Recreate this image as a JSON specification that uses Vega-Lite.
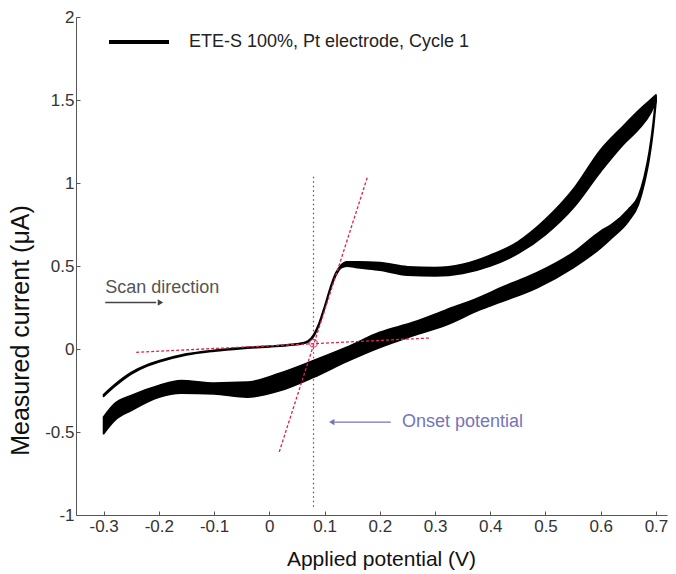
{
  "$schema": "https://vega.github.io/schema/vega-lite/v6.json",
  "width": 591,
  "height": 498,
  "autosize": {"type": "none"},
  "padding": {"left": 76, "top": 17, "right": 9, "bottom": 59},
  "background": "white",
  "config": {
    "view": {"stroke": null},
    "font": "Liberation Sans",
    "axis": {
      "grid": false,
      "domainColor": "#555555",
      "tickColor": "#555555",
      "tickSize": -4,
      "labelFont": "Liberation Sans",
      "labelFontSize": 17,
      "labelColor": "#333333",
      "titleFont": "Liberation Sans",
      "titleFontWeight": "normal",
      "titleColor": "#111111"
    }
  },
  "datasets": {
    "cv": [
      {"branch": "forward", "series": "ETE-S 100%, Pt electrode, Cycle 1", "v": -0.30, "lo": -0.285, "hi": -0.275},
      {"branch": "forward", "series": "ETE-S 100%, Pt electrode, Cycle 1", "v": -0.28, "lo": -0.225, "hi": -0.215},
      {"branch": "forward", "series": "ETE-S 100%, Pt electrode, Cycle 1", "v": -0.25, "lo": -0.15, "hi": -0.142},
      {"branch": "forward", "series": "ETE-S 100%, Pt electrode, Cycle 1", "v": -0.22, "lo": -0.10, "hi": -0.094},
      {"branch": "forward", "series": "ETE-S 100%, Pt electrode, Cycle 1", "v": -0.20, "lo": -0.078, "hi": -0.072},
      {"branch": "forward", "series": "ETE-S 100%, Pt electrode, Cycle 1", "v": -0.15, "lo": -0.035, "hi": -0.03},
      {"branch": "forward", "series": "ETE-S 100%, Pt electrode, Cycle 1", "v": -0.10, "lo": -0.012, "hi": -0.008},
      {"branch": "forward", "series": "ETE-S 100%, Pt electrode, Cycle 1", "v": -0.05, "lo": 0.003, "hi": 0.007},
      {"branch": "forward", "series": "ETE-S 100%, Pt electrode, Cycle 1", "v": 0.00, "lo": 0.013, "hi": 0.017},
      {"branch": "forward", "series": "ETE-S 100%, Pt electrode, Cycle 1", "v": 0.04, "lo": 0.023, "hi": 0.027},
      {"branch": "forward", "series": "ETE-S 100%, Pt electrode, Cycle 1", "v": 0.06, "lo": 0.032, "hi": 0.037},
      {"branch": "forward", "series": "ETE-S 100%, Pt electrode, Cycle 1", "v": 0.07, "lo": 0.042, "hi": 0.048},
      {"branch": "forward", "series": "ETE-S 100%, Pt electrode, Cycle 1", "v": 0.08, "lo": 0.075, "hi": 0.085},
      {"branch": "forward", "series": "ETE-S 100%, Pt electrode, Cycle 1", "v": 0.09, "lo": 0.145, "hi": 0.155},
      {"branch": "forward", "series": "ETE-S 100%, Pt electrode, Cycle 1", "v": 0.10, "lo": 0.245, "hi": 0.255},
      {"branch": "forward", "series": "ETE-S 100%, Pt electrode, Cycle 1", "v": 0.11, "lo": 0.355, "hi": 0.365},
      {"branch": "forward", "series": "ETE-S 100%, Pt electrode, Cycle 1", "v": 0.12, "lo": 0.44, "hi": 0.455},
      {"branch": "forward", "series": "ETE-S 100%, Pt electrode, Cycle 1", "v": 0.13, "lo": 0.49, "hi": 0.505},
      {"branch": "forward", "series": "ETE-S 100%, Pt electrode, Cycle 1", "v": 0.14, "lo": 0.50, "hi": 0.525},
      {"branch": "forward", "series": "ETE-S 100%, Pt electrode, Cycle 1", "v": 0.16, "lo": 0.49, "hi": 0.525},
      {"branch": "forward", "series": "ETE-S 100%, Pt electrode, Cycle 1", "v": 0.20, "lo": 0.475, "hi": 0.52},
      {"branch": "forward", "series": "ETE-S 100%, Pt electrode, Cycle 1", "v": 0.25, "lo": 0.445, "hi": 0.495},
      {"branch": "forward", "series": "ETE-S 100%, Pt electrode, Cycle 1", "v": 0.30, "lo": 0.44, "hi": 0.49},
      {"branch": "forward", "series": "ETE-S 100%, Pt electrode, Cycle 1", "v": 0.35, "lo": 0.455, "hi": 0.51},
      {"branch": "forward", "series": "ETE-S 100%, Pt electrode, Cycle 1", "v": 0.40, "lo": 0.50, "hi": 0.565},
      {"branch": "forward", "series": "ETE-S 100%, Pt electrode, Cycle 1", "v": 0.45, "lo": 0.575, "hi": 0.645},
      {"branch": "forward", "series": "ETE-S 100%, Pt electrode, Cycle 1", "v": 0.50, "lo": 0.69, "hi": 0.78},
      {"branch": "forward", "series": "ETE-S 100%, Pt electrode, Cycle 1", "v": 0.55, "lo": 0.85, "hi": 0.96},
      {"branch": "forward", "series": "ETE-S 100%, Pt electrode, Cycle 1", "v": 0.60, "lo": 1.07, "hi": 1.20},
      {"branch": "forward", "series": "ETE-S 100%, Pt electrode, Cycle 1", "v": 0.64, "lo": 1.23, "hi": 1.34},
      {"branch": "forward", "series": "ETE-S 100%, Pt electrode, Cycle 1", "v": 0.67, "lo": 1.33, "hi": 1.44},
      {"branch": "forward", "series": "ETE-S 100%, Pt electrode, Cycle 1", "v": 0.69, "lo": 1.42, "hi": 1.50},
      {"branch": "forward", "series": "ETE-S 100%, Pt electrode, Cycle 1", "v": 0.70, "lo": 1.49, "hi": 1.53},
      {"branch": "reverse", "series": "ETE-S 100%, Pt electrode, Cycle 1", "v": 0.70, "lo": 1.49, "hi": 1.52},
      {"branch": "reverse", "series": "ETE-S 100%, Pt electrode, Cycle 1", "v": 0.695, "lo": 1.32, "hi": 1.36},
      {"branch": "reverse", "series": "ETE-S 100%, Pt electrode, Cycle 1", "v": 0.688, "lo": 1.15, "hi": 1.19},
      {"branch": "reverse", "series": "ETE-S 100%, Pt electrode, Cycle 1", "v": 0.679, "lo": 1.0, "hi": 1.04},
      {"branch": "reverse", "series": "ETE-S 100%, Pt electrode, Cycle 1", "v": 0.668, "lo": 0.87, "hi": 0.92},
      {"branch": "reverse", "series": "ETE-S 100%, Pt electrode, Cycle 1", "v": 0.65, "lo": 0.77, "hi": 0.84},
      {"branch": "reverse", "series": "ETE-S 100%, Pt electrode, Cycle 1", "v": 0.62, "lo": 0.67, "hi": 0.75},
      {"branch": "reverse", "series": "ETE-S 100%, Pt electrode, Cycle 1", "v": 0.60, "lo": 0.61, "hi": 0.71},
      {"branch": "reverse", "series": "ETE-S 100%, Pt electrode, Cycle 1", "v": 0.55, "lo": 0.49, "hi": 0.58},
      {"branch": "reverse", "series": "ETE-S 100%, Pt electrode, Cycle 1", "v": 0.485, "lo": 0.37, "hi": 0.46},
      {"branch": "reverse", "series": "ETE-S 100%, Pt electrode, Cycle 1", "v": 0.42, "lo": 0.285, "hi": 0.37},
      {"branch": "reverse", "series": "ETE-S 100%, Pt electrode, Cycle 1", "v": 0.38, "lo": 0.235, "hi": 0.31},
      {"branch": "reverse", "series": "ETE-S 100%, Pt electrode, Cycle 1", "v": 0.32, "lo": 0.145, "hi": 0.235},
      {"branch": "reverse", "series": "ETE-S 100%, Pt electrode, Cycle 1", "v": 0.26, "lo": 0.08, "hi": 0.16},
      {"branch": "reverse", "series": "ETE-S 100%, Pt electrode, Cycle 1", "v": 0.20, "lo": 0.01, "hi": 0.10},
      {"branch": "reverse", "series": "ETE-S 100%, Pt electrode, Cycle 1", "v": 0.14, "lo": -0.075, "hi": 0.01},
      {"branch": "reverse", "series": "ETE-S 100%, Pt electrode, Cycle 1", "v": 0.08, "lo": -0.17, "hi": -0.07},
      {"branch": "reverse", "series": "ETE-S 100%, Pt electrode, Cycle 1", "v": 0.02, "lo": -0.25, "hi": -0.145},
      {"branch": "reverse", "series": "ETE-S 100%, Pt electrode, Cycle 1", "v": -0.04, "lo": -0.29, "hi": -0.20},
      {"branch": "reverse", "series": "ETE-S 100%, Pt electrode, Cycle 1", "v": -0.10, "lo": -0.27, "hi": -0.205},
      {"branch": "reverse", "series": "ETE-S 100%, Pt electrode, Cycle 1", "v": -0.16, "lo": -0.265, "hi": -0.19},
      {"branch": "reverse", "series": "ETE-S 100%, Pt electrode, Cycle 1", "v": -0.20, "lo": -0.29, "hi": -0.22},
      {"branch": "reverse", "series": "ETE-S 100%, Pt electrode, Cycle 1", "v": -0.25, "lo": -0.37, "hi": -0.28},
      {"branch": "reverse", "series": "ETE-S 100%, Pt electrode, Cycle 1", "v": -0.28, "lo": -0.43, "hi": -0.33},
      {"branch": "reverse", "series": "ETE-S 100%, Pt electrode, Cycle 1", "v": -0.30, "lo": -0.51, "hi": -0.41}
    ],
    "tangents": [
      {"line": "steep", "v": 0.018, "i": -0.62},
      {"line": "steep", "v": 0.178, "i": 1.04},
      {"line": "baseline", "v": -0.241, "i": -0.02},
      {"line": "baseline", "v": 0.289, "i": 0.066}
    ],
    "onset": [{"v": 0.08, "i": 0.035, "top": 1.05, "bottom": -0.95}],
    "labels": [
      {"label": "Scan direction", "v": -0.297, "i": 0.37, "color": "scan"},
      {"label": "Onset potential", "v": 0.24, "i": -0.44, "color": "onset"}
    ],
    "arrows": [
      {"color": "scan", "v1": -0.297, "v2": -0.205, "i": 0.28, "head": -0.197, "dir": "triangle-right"},
      {"color": "onset", "v1": 0.118, "v2": 0.22, "i": -0.44, "head": 0.113, "dir": "triangle-left"}
    ]
  },
  "encoding": {
    "x": {
      "type": "quantitative",
      "scale": {"domain": [-0.35, 0.72], "nice": false, "zero": false}
    },
    "y": {
      "type": "quantitative",
      "scale": {"domain": [-1, 2], "nice": false, "zero": false}
    }
  },
  "layer": [
    {
      "data": {"name": "onset"},
      "mark": {"type": "rule", "color": "#555555", "strokeWidth": 1.2, "strokeDash": [1.5, 3]},
      "encoding": {
        "x": {"field": "v", "type": "quantitative", "axis": {"title": "Applied potential (V)", "titleFontSize": 21, "titleX": 305, "values": [-0.3, -0.2, -0.1, 0, 0.1, 0.2, 0.3, 0.4, 0.5, 0.6, 0.7], "labelExpr": "'' + datum.value", "labelPadding": 7, "titlePadding": 14}},
        "y": {"field": "bottom", "type": "quantitative", "axis": {"title": "Measured current (μA)", "titleFontSize": 25, "titleY": 313, "values": [-1, -0.5, 0, 0.5, 1, 1.5, 2], "labelExpr": "'' + datum.value", "labelPadding": 6, "titlePadding": 11}},
        "y2": {"field": "top"}
      }
    },
    {
      "data": {"name": "cv"},
      "mark": {"type": "area", "stroke": "black", "strokeWidth": 1.8, "strokeJoin": "round", "interpolate": "monotone"},
      "encoding": {
        "x": {"field": "v", "type": "quantitative"},
        "y": {"field": "lo", "type": "quantitative"},
        "y2": {"field": "hi"},
        "detail": {"field": "branch"},
        "color": {
          "field": "series",
          "type": "nominal",
          "scale": {"range": ["black"]},
          "legend": {
            "title": null,
            "orient": "none",
            "legendX": 31,
            "legendY": -7,
            "padding": 0,
            "symbolType": "stroke",
            "symbolSize": 3600,
            "symbolStrokeWidth": 4,
            "symbolStrokeColor": "black",
            "labelOffset": 18,
            "labelFont": "Liberation Sans",
            "labelFontSize": 18,
            "labelColor": "#222222",
            "labelLimit": 400
          }
        }
      }
    },
    {
      "data": {"name": "tangents"},
      "mark": {"type": "line", "color": "#e0204f", "strokeWidth": 1.3, "strokeDash": [3, 2]},
      "encoding": {
        "x": {"field": "v", "type": "quantitative"},
        "y": {"field": "i", "type": "quantitative"},
        "detail": {"field": "line"}
      }
    },
    {
      "data": {"name": "onset"},
      "mark": {"type": "point", "shape": "circle", "filled": false, "color": "#e0204f", "size": 60, "strokeWidth": 1.3},
      "encoding": {
        "x": {"field": "v", "type": "quantitative"},
        "y": {"field": "i", "type": "quantitative"}
      }
    },
    {
      "data": {"name": "arrows"},
      "mark": {"type": "rule", "strokeWidth": 1.3},
      "encoding": {
        "x": {"field": "v1", "type": "quantitative"},
        "x2": {"field": "v2"},
        "y": {"field": "i", "type": "quantitative"},
        "color": {"field": "color", "type": "nominal", "scale": {"domain": ["scan", "onset"], "range": ["#444444", "#7474b8"]}, "legend": null}
      }
    },
    {
      "data": {"name": "arrows"},
      "mark": {"type": "point", "filled": true, "size": 40, "opacity": 1},
      "encoding": {
        "x": {"field": "head", "type": "quantitative"},
        "y": {"field": "i", "type": "quantitative"},
        "shape": {"field": "dir", "type": "nominal", "scale": {"domain": ["triangle-right", "triangle-left"], "range": ["triangle-right", "triangle-left"]}, "legend": null},
        "color": {"field": "color", "type": "nominal", "scale": {"domain": ["scan", "onset"], "range": ["#444444", "#7474b8"]}, "legend": null}
      }
    },
    {
      "data": {"name": "labels"},
      "mark": {"type": "text", "align": "left", "baseline": "middle", "font": "Liberation Sans", "fontSize": 18},
      "encoding": {
        "x": {"field": "v", "type": "quantitative"},
        "y": {"field": "i", "type": "quantitative"},
        "text": {"field": "label"},
        "color": {"field": "color", "type": "nominal", "scale": {"domain": ["scan", "onset"], "range": ["#555555", "#7474b8"]}, "legend": null}
      }
    }
  ],
  "resolve": {"scale": {"color": "independent"}}
}
